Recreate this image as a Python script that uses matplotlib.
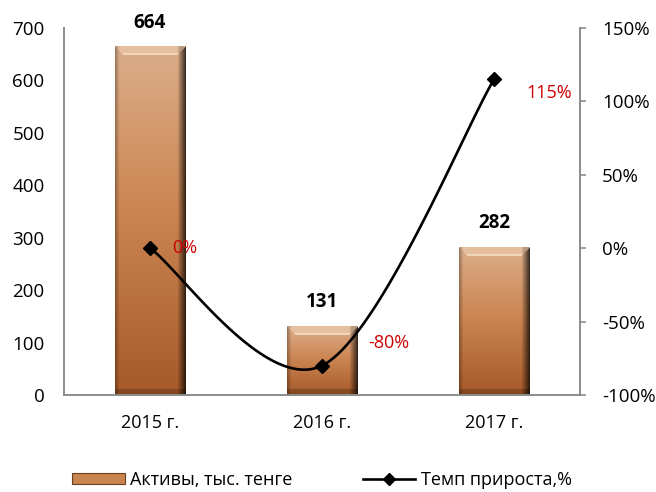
import numpy as np
import matplotlib
matplotlib.use("Agg")
import matplotlib.pyplot as plt
from matplotlib.patches import Patch
from matplotlib.lines import Line2D

plt.rcParams['font.family'] = ['Open Sans', 'DejaVu Sans']

categories = ["2015 г.", "2016 г.", "2017 г."]
assets = [664, 131, 282]
growth = [0, -80, 115]
growth_labels = ["0%", "-80%", "115%"]
left_ticks = [0, 100, 200, 300, 400, 500, 600, 700]
right_ticks = [-100, -50, 0, 50, 100, 150]
right_tick_labels = ["-100%", "-50%", "0%", "50%", "100%", "150%"]
series_names = ["Активы, тыс. тенге", "Темп прироста,%"]

W, H, DPI = 656, 492, 100
fig = plt.figure(figsize=(W / DPI, H / DPI), dpi=DPI)
ax = fig.add_axes([64 / W, 1 - 395 / H, (580 - 64) / W, (395 - 28) / H])
ax2 = ax.twinx()

FS = 13.5
GRAY = '#8c8c8c'
x = np.arange(len(categories))
bw = 0.407

ax.set_xlim(-0.5, len(categories) - 0.5)
ax.set_ylim(0, 700)
ax2.set_ylim(-100, 150)

# pixel scales
ax_px_w = 580 - 64
ax_px_h = 395 - 28
px_per_val = ax_px_h / 700.0
px_per_cat = ax_px_w / 3.0
px_per_pct = ax_px_h / 250.0

# bars (base patch) and gradient overlay
bars = ax.bar(x, assets, width=bw, color='#c98450', zorder=1)

stops_t = np.array([0.0, 0.45, 1.0])
stops_c = np.array([[0.86, 0.68, 0.54], [0.80, 0.53, 0.33], [0.65, 0.35, 0.16]])

for b, v in zip(bars, assets):
    hp = max(int(round(v * px_per_val)), 10)
    wp = int(round(bw * px_per_cat))
    t = np.linspace(0, 1, hp)
    base = np.stack([np.interp(t, stops_t, stops_c[:, k]) for k in range(3)], axis=1)
    img = np.repeat(base[:, None, :], wp, axis=1)
    u = np.arange(wp)
    f = np.ones(wp)
    f = np.where(u < 4, 0.72 + 0.07 * u, f)
    f = np.where(u > wp - 9, 1 - (u - (wp - 9)) / 8.0 * 0.72, f)
    img = img * f[None, :, None]
    # top bevel
    bev = 9
    for r in range(min(bev, hp)):
        lo = r
        hi = wp - 1 - r
        light = np.array([0.90, 0.75, 0.62]) if r < bev - 2 else np.array([0.95, 0.84, 0.74])
        img[r, lo:hi + 1] = light * np.clip(f[lo:hi + 1], 0.8, 1)[:, None]
    # bottom bevel
    for r in range(6):
        rr = hp - 1 - r
        img[rr, :] = img[rr, :] * 0.8
    img = np.clip(img, 0, 1)
    x0 = b.get_x()
    ax.imshow(img, extent=(x0, x0 + b.get_width(), 0, v), aspect='auto',
              origin='upper', interpolation='bilinear', zorder=2)
    ax.annotate(f"{v}", xy=(b.get_x() + b.get_width() / 2, v), xytext=(0, 10),
                textcoords='offset points', ha='center', va='bottom',
                fontsize=FS, fontweight='bold', color='black')

ax.set_xlim(-0.5, len(categories) - 0.5)
ax.set_ylim(0, 700)

# smoothed line (Excel-like Bezier smoothing in screen-scaled space)
P = np.column_stack([x * px_per_cat, np.array(growth, float) * px_per_pct])
n = len(P)
curve = []
for i in range(n - 1):
    pm = P[max(i - 1, 0)]
    p0 = P[i]
    p1 = P[i + 1]
    p2 = P[min(i + 2, n - 1)]
    c1 = p0 + (p1 - pm) / 6.0
    c2 = p1 - (p2 - p0) / 6.0
    tt = np.linspace(0, 1, 60)[:, None]
    seg = ((1 - tt) ** 3) * p0 + 3 * ((1 - tt) ** 2) * tt * c1 + 3 * (1 - tt) * tt ** 2 * c2 + tt ** 3 * p1
    curve.append(seg if i == 0 else seg[1:])
curve = np.vstack(curve)
ax2.plot(curve[:, 0] / px_per_cat, curve[:, 1] / px_per_pct, color='black', lw=1.9,
         solid_capstyle='round', zorder=3)
ax2.plot(x, growth, linestyle='none', marker='D', markersize=7, color='black', zorder=4)

offsets = [(16, 0), (33, 16), (23, -10)]
for xi, g, lab, off in zip(x, growth, growth_labels, offsets):
    ax2.annotate(lab, xy=(xi, g), xytext=off, textcoords='offset points',
                 ha='left', va='center', fontsize=FS - 0.5, color='#cc0000')

# axes styling
ax.set_xticks(x)
ax.set_xticklabels(categories, fontsize=FS - 0.5)
ax.set_yticks(left_ticks)
ax.set_yticklabels([str(t) for t in left_ticks], fontsize=FS)
ax.tick_params(axis='x', length=0, pad=14)
ax.tick_params(axis='y', length=0, pad=14)
ax2.set_yticks(right_ticks)
ax2.set_yticklabels(right_tick_labels, fontsize=FS)
ax2.tick_params(axis='y', length=4, width=1.2, color=GRAY, pad=12, direction='out')
ax2.set_ylim(-100, 150)

for a in (ax, ax2):
    a.spines['top'].set_visible(False)
    for s in ('left', 'right', 'bottom'):
        a.spines[s].set_color(GRAY)
        a.spines[s].set_linewidth(1.4)
ax.spines['right'].set_visible(False)
ax2.spines['left'].set_visible(False)
ax2.spines['bottom'].set_visible(False)
ax.set_zorder(1)
ax2.set_zorder(2)
ax2.patch.set_visible(False)

handles = [Patch(facecolor='#c98450', edgecolor='#6a4020', linewidth=0.8),
           Line2D([0], [0], color='black', lw=1.9, marker='D', markersize=6)]
fig.legend(handles, series_names, loc='center', bbox_to_anchor=(322 / W, 1 - 480 / H),
           ncol=2, frameon=False, fontsize=FS - 0.5, handlelength=2.9, handleheight=0.5,
           handletextpad=0.3, columnspacing=3.9)

fig.savefig('out.png', dpi=DPI)
